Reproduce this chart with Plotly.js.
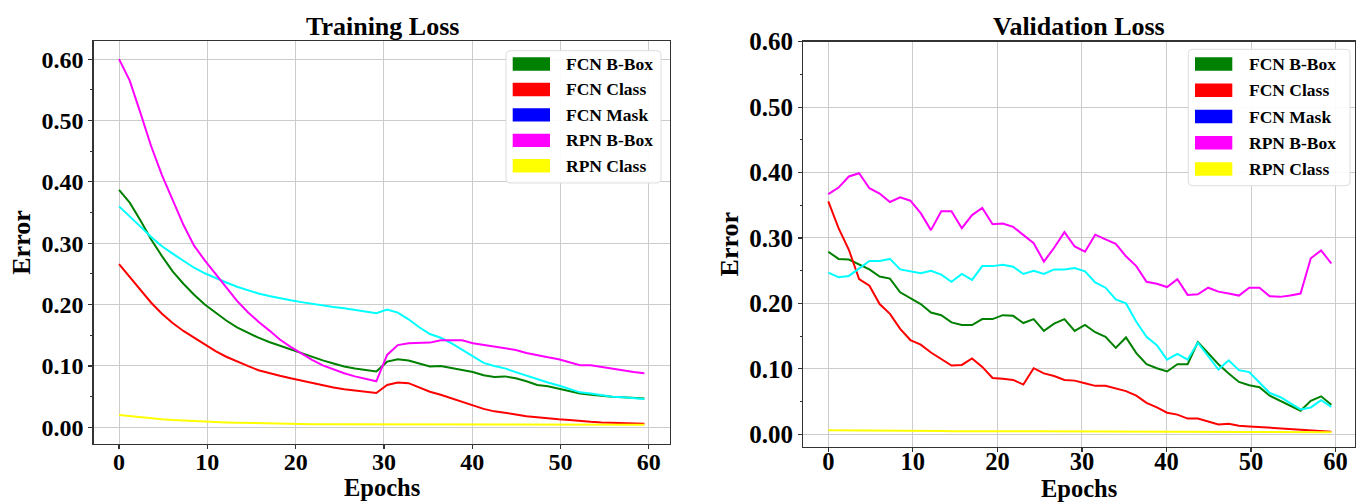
<!DOCTYPE html>
<html>
<head>
<meta charset="utf-8">
<script src="https://cdn.plot.ly/plotly-3.0.1.min.js"></script>
<style>
  html, body { margin: 0; padding: 0; background: #ffffff; }
  #chart { width: 1360px; height: 502px; }
</style>
</head>
<body>
<div id="chart"></div>
<script>
// ---------------- data ----------------
const epochs = [0, 1.21, 2.43, 3.64, 4.86, 6.07, 7.29, 8.5, 9.71, 10.93,
  12.14, 13.36, 14.57, 15.79, 17, 18.21, 19.43, 20.64, 21.86, 23.07,
  24.29, 25.5, 26.71, 27.93, 29.14, 30.36, 31.57, 32.79, 34, 35.21,
  36.43, 37.64, 38.86, 40.07, 41.29, 42.5, 43.71, 44.93, 46.14, 47.36,
  48.57, 49.79, 51, 52.21, 53.43, 54.64, 55.86, 57.07, 58.29, 59.5];

const seriesNames = ['FCN B-Box', 'FCN Class', 'FCN Mask', 'RPN B-Box', 'RPN Class'];
const lineColors  = ['#008000', '#ff0000', '#00ffff', '#ff00ff', '#ffff00'];
const patchColors = ['#008000', '#ff0000', '#0000ff', '#ff00ff', '#ffff00'];

const trainFcnBBox = [0.387,0.366,0.337,0.306,0.279,0.254,0.234,0.216,0.200,0.187,
  0.174,0.163,0.154,0.146,0.139,0.133,0.126,0.120,0.114,0.109,
  0.104,0.099,0.096,0.093,0.091,0.107,0.111,0.109,0.104,0.099,
  0.100,0.097,0.094,0.090,0.085,0.082,0.083,0.080,0.075,0.069,
  0.067,0.063,0.059,0.055,0.053,0.051,0.050,0.049,0.048,0.047];
const trainFcnClass = [0.266,0.245,0.223,0.203,0.185,0.170,0.157,0.146,0.135,0.124,
  0.115,0.107,0.100,0.093,0.088,0.084,0.080,0.076,0.072,0.068,
  0.065,0.062,0.060,0.058,0.056,0.069,0.073,0.072,0.065,0.058,
  0.053,0.047,0.041,0.035,0.030,0.026,0.024,0.021,0.018,0.016,
  0.014,0.013,0.012,0.010,0.009,0.008,0.0075,0.007,0.0065,0.006];
const trainFcnMask = [0.360,0.344,0.327,0.310,0.295,0.283,0.271,0.260,0.251,0.243,
  0.236,0.229,0.223,0.218,0.214,0.210,0.207,0.204,0.201,0.198,
  0.196,0.194,0.191,0.188,0.186,0.192,0.187,0.176,0.163,0.152,
  0.146,0.137,0.126,0.115,0.105,0.100,0.096,0.090,0.084,0.078,
  0.073,0.068,0.063,0.057,0.055,0.052,0.050,0.049,0.047,0.046];
const trainRpnBBox = [0.600,0.565,0.512,0.458,0.411,0.370,0.330,0.296,0.272,0.250,
  0.228,0.206,0.188,0.172,0.158,0.143,0.131,0.120,0.110,0.101,
  0.094,0.088,0.083,0.079,0.075,0.118,0.134,0.137,0.138,0.138,
  0.142,0.142,0.142,0.137,0.134,0.131,0.128,0.126,0.121,0.117,
  0.114,0.111,0.106,0.101,0.101,0.098,0.095,0.092,0.090,0.088];
const trainRpnClass = [0.020,0.018,0.016,0.015,0.013,0.012,0.011,0.010,0.009,0.0085,
  0.008,0.0075,0.007,0.0065,0.006,0.006,0.0055,0.0055,0.005,0.005,
  0.005,0.0048,0.0046,0.0045,0.0044,0.0045,0.0046,0.0046,0.0046,0.0046,
  0.0046,0.0046,0.0046,0.0046,0.0045,0.0045,0.0045,0.0045,0.0045,0.0044,
  0.0044,0.0044,0.0043,0.0043,0.0042,0.0042,0.0041,0.0041,0.004,0.004];

const valFcnBBox = [0.279,0.268,0.267,0.259,0.252,0.241,0.238,0.217,0.208,0.199,
  0.186,0.182,0.171,0.167,0.167,0.176,0.176,0.182,0.181,0.170,
  0.176,0.158,0.169,0.176,0.158,0.167,0.156,0.149,0.132,0.148,
  0.124,0.107,0.101,0.096,0.107,0.107,0.141,0.124,0.107,0.093,
  0.080,0.075,0.072,0.059,0.051,0.044,0.036,0.051,0.058,0.045];
const valFcnClass = [0.356,0.315,0.282,0.237,0.227,0.199,0.184,0.161,0.144,0.137,
  0.125,0.115,0.105,0.106,0.116,0.103,0.086,0.085,0.083,0.076,
  0.101,0.093,0.089,0.083,0.082,0.078,0.074,0.074,0.070,0.066,
  0.059,0.048,0.041,0.033,0.030,0.024,0.024,0.019,0.015,0.016,
  0.013,0.012,0.011,0.009,0.008,0.007,0.006,0.005,0.0045,0.004];
const valFcnMask = [0.247,0.240,0.242,0.254,0.265,0.265,0.268,0.252,0.249,0.246,
  0.250,0.244,0.233,0.245,0.236,0.257,0.257,0.259,0.256,0.245,
  0.250,0.245,0.252,0.252,0.254,0.249,0.232,0.224,0.206,0.200,
  0.172,0.149,0.136,0.114,0.123,0.114,0.140,0.119,0.099,0.113,
  0.098,0.095,0.079,0.063,0.057,0.048,0.038,0.041,0.052,0.042];
const valRpnBBox = [0.367,0.377,0.394,0.399,0.376,0.368,0.355,0.362,0.357,0.338,
  0.312,0.341,0.341,0.315,0.335,0.346,0.321,0.322,0.317,0.305,
  0.292,0.264,0.285,0.309,0.287,0.279,0.305,0.298,0.291,0.272,
  0.257,0.233,0.230,0.225,0.237,0.213,0.214,0.224,0.218,0.215,
  0.212,0.224,0.224,0.211,0.210,0.212,0.215,0.269,0.281,0.261];
const valRpnClass = [0.006,0.006,0.006,0.006,0.0058,0.0057,0.0057,0.0056,0.0056,0.0055,
  0.0053,0.005,0.0048,0.0046,0.0045,0.0045,0.0046,0.0046,0.0045,0.0045,
  0.0046,0.0046,0.0044,0.0042,0.004,0.004,0.004,0.0039,0.0038,0.0038,
  0.004,0.004,0.004,0.004,0.0038,0.0038,0.0037,0.0037,0.0036,0.0036,
  0.0035,0.0035,0.0034,0.0034,0.0034,0.0033,0.0033,0.0032,0.0031,0.003];

const xTickVals = [0, 10, 20, 30, 40, 50, 60];
const xTickText = ['0', '10', '20', '30', '40', '50', '60'];
const yTickVals = [0, 0.1, 0.2, 0.3, 0.4, 0.5, 0.6];
const yTickText = ['0.00', '0.10', '0.20', '0.30', '0.40', '0.50', '0.60'];

const panelTitles = ['Training Loss', 'Validation Loss'];
const xTitle = 'Epochs';
const yTitle = 'Error';

const trainSeries = [trainFcnBBox, trainFcnClass, trainFcnMask, trainRpnBBox, trainRpnClass];
const valSeries   = [valFcnBBox, valFcnClass, valFcnMask, valRpnBBox, valRpnClass];

// ---------------- layout helpers ----------------
const W = 1360, H = 502;
const px = x => x / W;
const py = y => 1 - y / H;
const FONT = 'Liberation Serif, Times New Roman, serif';

const traces = [];
seriesNames.forEach((name, k) => {
  traces.push({ type: 'scatter', mode: 'lines', x: epochs, y: trainSeries[k], name: name,
    xaxis: 'x', yaxis: 'y', showlegend: false, line: { color: lineColors[k], width: 2 } });
});
seriesNames.forEach((name, k) => {
  traces.push({ type: 'scatter', mode: 'lines', x: epochs, y: valSeries[k], name: name,
    xaxis: 'x2', yaxis: 'y2', showlegend: false, line: { color: lineColors[k], width: 2 } });
});

function xAxis(domain, range, anchor, fs, labelShift) {
  return {
    domain: domain, range: range, anchor: anchor,
    tickmode: 'array', tickvals: xTickVals, ticktext: xTickText,
    ticks: 'outside', ticklen: 4, tickwidth: 1.2, tickcolor: '#333',
    ticklabelstandoff: labelShift,
    tickfont: { family: FONT, size: fs, color: '#000', weight: 'bold' },
    showgrid: true, gridcolor: '#cccccc', gridwidth: 1, zeroline: false,
    showline: true, linecolor: '#333', linewidth: 1.3, mirror: true
  };
}
function yAxis(domain, range, anchor, fs) {
  return {
    domain: domain, range: range, anchor: anchor,
    tickmode: 'array', tickvals: yTickVals, ticktext: yTickText,
    ticks: 'outside', ticklen: 4, tickwidth: 1.2, tickcolor: '#333',
    minor: { dtick: 0.05, tick0: 0, ticks: 'outside', ticklen: 2.5, tickwidth: 1, tickcolor: '#333', showgrid: false },
    tickfont: { family: FONT, size: fs, color: '#000', weight: 'bold' },
    showgrid: true, gridcolor: '#cccccc', gridwidth: 1, zeroline: false,
    showline: true, linecolor: '#333', linewidth: 1.3, mirror: true,
    title: { text: yTitle, font: { family: FONT, size: 26, color: '#000', weight: 'bold' }, standoff: 3 }
  };
}

// legend geometry (pixel boxes) for both panels
const legends = [
  { box: [506, 50.7, 661, 183], patchX: [512.7, 550], textX: 564, row0: 64, step: 25.45 },
  { box: [1188.3, 49.3, 1350, 185.7], patchX: [1195, 1232.3], textX: 1247.3, row0: 64, step: 26.25 }
];
const shapes = [];
const annotations = [];
function roundRectPath(x0, y0, x1, y1, r) {
  const X = v => px(v), Y = v => py(v);
  return 'M' + X(x0 + r) + ',' + Y(y0) + ' L' + X(x1 - r) + ',' + Y(y0) +
    ' Q' + X(x1) + ',' + Y(y0) + ' ' + X(x1) + ',' + Y(y0 + r) +
    ' L' + X(x1) + ',' + Y(y1 - r) +
    ' Q' + X(x1) + ',' + Y(y1) + ' ' + X(x1 - r) + ',' + Y(y1) +
    ' L' + X(x0 + r) + ',' + Y(y1) +
    ' Q' + X(x0) + ',' + Y(y1) + ' ' + X(x0) + ',' + Y(y1 - r) +
    ' L' + X(x0) + ',' + Y(y0 + r) +
    ' Q' + X(x0) + ',' + Y(y0) + ' ' + X(x0 + r) + ',' + Y(y0) + ' Z';
}
legends.forEach(lg => {
  shapes.push({ type: 'path', xref: 'paper', yref: 'paper', layer: 'above',
    path: roundRectPath(lg.box[0], lg.box[1], lg.box[2], lg.box[3], 4),
    fillcolor: 'rgba(255,255,255,0.92)', line: { color: '#dddddd', width: 1 } });
  seriesNames.forEach((name, k) => {
    const cy = lg.row0 + k * lg.step;
    shapes.push({ type: 'rect', xref: 'paper', yref: 'paper', layer: 'above',
      x0: px(lg.patchX[0]), x1: px(lg.patchX[1]), y0: py(cy - 6.7), y1: py(cy + 6.7),
      fillcolor: patchColors[k], line: { width: 0 } });
    annotations.push({ xref: 'paper', yref: 'paper', x: px(lg.textX), y: py(cy),
      xanchor: 'left', yanchor: 'middle', showarrow: false, text: name,
      font: { family: FONT, size: 17.5, color: '#000', weight: 'bold' } });
  });
});
// panel titles and x-axis titles
[[382, panelTitles[0], 487.5], [1079, panelTitles[1], 488.5]].forEach(([cx, t, ty]) => {
  annotations.push({ xref: 'paper', yref: 'paper', x: px(cx), y: py(27), xanchor: 'center', yanchor: 'middle',
    showarrow: false, text: t, font: { family: FONT, size: 26, color: '#000', weight: 'bold' } });
  annotations.push({ xref: 'paper', yref: 'paper', x: px(cx), y: py(ty), xanchor: 'center', yanchor: 'middle',
    showarrow: false, text: xTitle, font: { family: FONT, size: 24.5, color: '#000', weight: 'bold' } });
});

const layout = {
  width: W, height: H,
  margin: { l: 0, r: 0, t: 0, b: 0 },
  paper_bgcolor: '#ffffff', plot_bgcolor: '#ffffff',
  showlegend: false,
  xaxis:  xAxis([px(93.7), px(670)], [-2.87, 62.4], 'y', 24, -8),
  yaxis:  yAxis([py(443.7), py(41.3)], [-0.0267, 0.629], 'x', 24),
  xaxis2: xAxis([px(803.3), px(1355)], [-2.96, 62.3], 'y2', 24.5, -11),
  yaxis2: yAxis([py(446.7), py(41.7)], [-0.019, 0.60], 'x2', 25),
  shapes: shapes,
  annotations: annotations
};

Plotly.newPlot('chart', traces, layout, { displayModeBar: false, staticPlot: true });
</script>
</body>
</html>
